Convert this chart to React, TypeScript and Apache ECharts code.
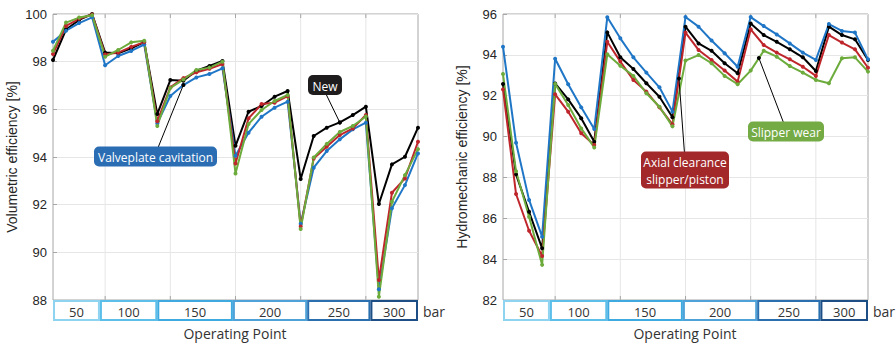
import React, { useEffect, useRef } from 'react';
import * as echarts from 'echarts';

const opIndex = [1, 2, 3, 4, 5, 6, 7, 8, 9, 10, 11, 12, 13, 14, 15, 16, 17, 18, 19, 20, 21, 22, 23, 24, 25, 26, 27, 28, 29];

const volNew = [98.07, 99.35, 99.75, 100.0, 98.38, 98.35, 98.56, 98.82, 95.8, 97.23, 97.2, 97.62, 97.82, 98.03, 94.47, 95.9, 96.14, 96.53, 96.77, 93.08, 94.88, 95.23, 95.45, 95.76, 96.11, 92.03, 93.69, 94.01, 95.23];
const volValve = [98.84, 99.3, 99.62, 99.86, 97.85, 98.24, 98.45, 98.72, 95.41, 96.56, 97.02, 97.34, 97.48, 97.72, 94.05, 95.02, 95.69, 96.07, 96.32, 91.2, 93.55, 94.25, 94.74, 95.16, 95.44, 88.45, 91.85, 92.82, 94.15];
const volAxial = [98.32, 99.5, 99.8, 99.98, 98.3, 98.38, 98.62, 98.82, 95.5, 96.92, 97.31, 97.55, 97.7, 97.9, 93.73, 95.62, 96.22, 96.28, 96.55, 91.08, 93.94, 94.43, 94.92, 95.2, 95.76, 88.84, 92.5, 93.1, 94.64];
const volSlipper = [98.46, 99.64, 99.85, 99.95, 98.21, 98.49, 98.81, 98.88, 95.3, 96.9, 97.25, 97.65, 97.75, 98.0, 93.31, 95.38, 95.97, 96.35, 96.6, 90.98, 93.98, 94.55, 95.05, 95.3, 95.7, 88.14, 92.12, 93.24, 94.33];

const hmNew = [92.57, 88.15, 86.32, 84.53, 92.6, 91.82, 90.9, 89.75, 95.1, 93.88, 93.31, 92.61, 91.95, 90.95, 95.38, 94.56, 94.2, 93.59, 93.1, 95.54, 94.97, 94.64, 94.27, 93.88, 93.21, 95.38, 94.97, 94.76, 93.75];
const hmValve = [94.4, 89.7, 86.9, 85.1, 93.81, 92.56, 91.43, 90.37, 95.84, 94.81, 93.88, 93.13, 92.41, 91.22, 95.85, 95.38, 94.7, 94.08, 93.42, 95.85, 95.41, 95.0, 94.56, 94.11, 93.75, 95.51, 95.17, 95.09, 93.78];
const hmAxial = [92.31, 87.19, 85.39, 84.15, 92.07, 91.22, 90.16, 89.59, 94.64, 93.67, 92.77, 92.2, 91.43, 90.6, 95.09, 94.24, 93.75, 93.23, 92.69, 95.25, 94.48, 94.11, 93.78, 93.42, 92.97, 94.97, 94.6, 94.27, 93.37];
const hmSlipper = [93.06, 88.3, 86.08, 83.72, 92.58, 91.55, 90.4, 89.47, 94.03, 93.47, 92.97, 92.12, 91.46, 90.5, 93.72, 93.99, 93.59, 92.97, 92.56, 93.23, 94.2, 93.91, 93.45, 93.13, 92.77, 92.61, 93.83, 93.88, 93.18];

const groupLabels = ['50', '100', '150', '200', '250', '300'];
const groupBounds = [1, 4.6, 9, 14.8, 20.5, 25.35, 29];
const groupColors = ['#8ed4f1', '#5cbfea', '#3eaae0', '#4fa2d8', '#2a6faf', '#1d4e86'];
const gridXs = [5, 10, 15, 20, 25];

const seriesNames = ['New', 'Valveplate cavitation', 'Axial clearance slipper/piston', 'Slipper wear'];
const seriesColors = ['#000000', '#1f76c6', '#be262c', '#6cab3c'];

const FONT_TICK = 'Liberation Sans, Arial, sans-serif';
const FONT_OS = 'Open Sans, sans-serif';

function pair(vals: number[]) {
  return opIndex.map((x, i) => [x, vals[i]]);
}

export default function App() {
  const ref = useRef<HTMLDivElement>(null);
  useEffect(() => {
    document.body.style.margin = '0';
    const chart = echarts.init(ref.current!, undefined, { renderer: 'svg' });
    const plotGrid = (left: number) => ({ left, top: 14, width: 365, height: 286, show: true, borderColor: '#a6a6a6', borderWidth: 1, backgroundColor: '#ffffff' });
    const stripGrid = (left: number) => ({ left, top: 300, width: 365, height: 21, show: false });
    const hiddenX = (gridIndex: number) => ({ type: 'value', gridIndex, min: 1, max: 29, axisLine: { show: false }, axisTick: { show: false }, axisLabel: { show: false }, splitLine: { show: false } });
    const valueY = (gridIndex: number, min: number, max: number, name: string) => ({
      type: 'value', gridIndex, min, max, interval: 2, name, nameLocation: 'middle', nameGap: 34,
      nameTextStyle: { fontFamily: FONT_TICK, fontSize: 14, color: '#262626' },
      axisLine: { show: false },
      axisTick: { show: true, inside: true, length: 4, lineStyle: { color: '#a6a6a6' } },
      axisLabel: { fontFamily: FONT_TICK, fontSize: 13, color: '#262626', margin: 6 },
      splitLine: { show: true, lineStyle: { color: '#e6e6e6', width: 1 } },
    });
    const hiddenY = (gridIndex: number) => ({ type: 'value', gridIndex, min: 0, max: 1, show: false });

    const lineSeries = (vals: number[], idx: number, axis: number) => ({
      type: 'line', name: seriesNames[idx], xAxisIndex: axis, yAxisIndex: axis,
      data: pair(vals), symbol: 'circle', symbolSize: 4, showSymbol: true,
      lineStyle: { width: 2, color: seriesColors[idx] }, itemStyle: { color: seriesColors[idx] }, z: 3,
    });
    const vGridSeries = (axis: number, yMin: number, yMax: number) => ({
      type: 'custom', xAxisIndex: axis, yAxisIndex: axis, silent: true, z: 1,
      data: gridXs.map((x) => [x]),
      renderItem: (params: any, api: any) => {
        const a = api.coord([api.value(0), yMin]);
        const b = api.coord([api.value(0), yMax]);
        return {
          type: 'group', children: [
            { type: 'line', shape: { x1: a[0], y1: a[1], x2: b[0], y2: b[1] }, style: { stroke: '#e6e6e6', lineWidth: 1 } },
            { type: 'line', shape: { x1: a[0], y1: a[1], x2: a[0], y2: a[1] - 4 }, style: { stroke: '#a6a6a6', lineWidth: 1 } },
            { type: 'line', shape: { x1: b[0], y1: b[1], x2: b[0], y2: b[1] + 4 }, style: { stroke: '#a6a6a6', lineWidth: 1 } },
          ],
        };
      },
    });
    const stripSeries = (axis: number) => ({
      type: 'custom', xAxisIndex: axis, yAxisIndex: axis, silent: true,
      data: groupLabels.map((g, i) => [groupBounds[i], groupBounds[i + 1]]),
      renderItem: (params: any, api: any) => {
        const s = api.coord([api.value(0), 1]);
        const e = api.coord([api.value(1), 0]);
        const i = params.dataIndex;
        return {
          type: 'group', children: [
            { type: 'rect', shape: { x: s[0] + 1, y: s[1] + 1, width: e[0] - s[0] - 2, height: e[1] - s[1] - 2 }, style: { fill: '#ffffff', stroke: groupColors[i], lineWidth: 2 } },
            { type: 'text', style: { text: groupLabels[i], x: (s[0] + e[0]) / 2, y: (s[1] + e[1]) / 2 + 1, align: 'center', verticalAlign: 'middle', font: '13px ' + FONT_OS, fill: '#333333' } },
          ],
        };
      },
    });

    chart.setOption({
      animation: false,
      backgroundColor: '#ffffff',
      grid: [plotGrid(53), plotGrid(503), stripGrid(53), stripGrid(503)],
      xAxis: [hiddenX(0), hiddenX(1), hiddenX(2), hiddenX(3)],
      yAxis: [valueY(0, 88, 100, 'Volumetric efficiency [%]'), valueY(1, 82, 96, 'Hydromechanic efficiency [%]'), hiddenY(2), hiddenY(3)],
      series: [
        vGridSeries(0, 88, 100), vGridSeries(1, 82, 96),
        lineSeries(volNew, 0, 0), lineSeries(volValve, 1, 0), lineSeries(volAxial, 2, 0), lineSeries(volSlipper, 3, 0),
        lineSeries(hmNew, 0, 1), lineSeries(hmValve, 1, 1), lineSeries(hmAxial, 2, 1), lineSeries(hmSlipper, 3, 1),
        stripSeries(2), stripSeries(3),
      ],
    });

    const px = (axis: number, x: number, y: number) => chart.convertToPixel({ xAxisIndex: axis, yAxisIndex: axis } as any, [x, y]) as number[];
    const callout = (label: string, color: string, cx: number, cy: number, w: number, h: number, fromY: number, target: number[]) => [
      { type: 'line', z: 10, shape: { x1: cx + (target[0] - cx) * 0.1, y1: fromY, x2: target[0], y2: target[1] }, style: { stroke: '#000', lineWidth: 1 } },
      { type: 'circle', z: 11, shape: { cx: target[0], cy: target[1], r: 2 }, style: { fill: '#000' } },
      { type: 'rect', z: 12, shape: { x: cx - w / 2, y: cy - h / 2, width: w, height: h, r: 5 }, style: { fill: color } },
      { type: 'text', z: 13, style: { text: label, x: cx, y: cy + 1, align: 'center', verticalAlign: 'middle', font: '12px ' + FONT_OS, fill: '#ffffff', lineHeight: 17 } },
    ];
    const pNew = px(0, 23, volNew[22]);
    const pValve = px(0, 11, volValve[10]);
    const pAxial = px(1, 14.5, (hmAxial[13] + hmAxial[14]) / 2);
    const pSlip = px(1, 20.63, hmSlipper[19] + (hmSlipper[20] - hmSlipper[19]) * 0.63);

    chart.setOption({
      graphic: [
        ...callout('New', '#1e1c1d', 325, 85, 34, 20, 95, pNew),
        ...callout('Valveplate cavitation', '#2b6db3', 155.5, 156.5, 123, 20, 147, pValve),
        ...callout('Axial clearance\nslipper/piston', '#a3282a', 685, 170, 88, 37, 152, pAxial),
        ...callout('Slipper wear', '#74ab45', 786, 131.5, 76, 20, 122, pSlip),
        { type: 'text', style: { text: 'bar', x: 423, y: 311, verticalAlign: 'middle', font: '14px ' + FONT_OS, fill: '#333333' } },
        { type: 'text', style: { text: 'bar', x: 873, y: 311, verticalAlign: 'middle', font: '14px ' + FONT_OS, fill: '#333333' } },
        { type: 'text', style: { text: 'Operating Point', x: 235, y: 333, align: 'center', verticalAlign: 'middle', font: '14px ' + FONT_OS, fill: '#333333' } },
        { type: 'text', style: { text: 'Operating Point', x: 685, y: 333, align: 'center', verticalAlign: 'middle', font: '14px ' + FONT_OS, fill: '#333333' } },
      ],
    });
    return () => chart.dispose();
  }, []);
  return <div ref={ref} style={{ width: 896, height: 345 }} />;
}
